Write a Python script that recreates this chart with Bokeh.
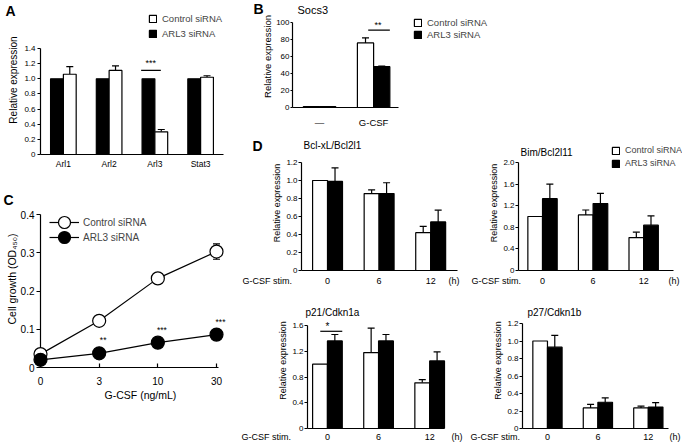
from bokeh.plotting import figure
from bokeh.layouts import row, column
from bokeh.models import (ColumnDataSource, Whisker, TeeHead, Legend, LegendItem,
                          Range1d, FixedTicker)
from bokeh.transform import dodge
from bokeh.core.properties import value
from bokeh.embed import file_html
from bokeh.resources import INLINE

FONT = "Liberation Sans"

# ---------------- data ----------------
# Panel A (qPCR after knock-down)
a_genes = ["Arl1", "Arl2", "Arl3", "Stat3"]
a_black = [1.0, 1.0, 1.0, 1.0]
a_white = [1.06, 1.11, 0.30, 1.02]
a_white_err = [0.10, 0.06, 0.03, 0.02]
a_yticks = [0, 0.2, 0.4, 0.6, 0.8, 1.0, 1.2, 1.4]
a_ylabels = ["0", "0.2", "0.4", "0.6", "0.8", "1.0", "1.2", "1.4"]

# Panel B (Socs3)
b_groups = ["\u2014", "G-CSF"]
b_ctrl = [1.0, 76.0]
b_ctrl_err = [0.0, 6.0]
b_arl3 = [1.0, 48.0]
b_arl3_err = [0.0, 0.8]
b_yticks = [0, 20, 40, 60, 80, 100]
b_ylabels = ["0", "20", "40", "60", "80", "100"]

# Panel C (cell growth)
c_doses = ["0", "3", "10", "30"]
c_ctrl = [0.035, 0.122, 0.233, 0.303]
c_ctrl_err = [0.0, 0.0, 0.0, 0.02]
c_arl3 = [0.020, 0.037, 0.065, 0.086]
c_stars = ["", "**", "***", "***"]
c_yticks = [0, 0.1, 0.2, 0.3, 0.4]
c_ylabels = ["0", "0.1", "0.2", "0.3", "0.4"]

# Panel D (time course)
d_times = ["0", "6", "12"]
d1_ctrl = [1.0, 0.855, 0.42]
d1_ctrl_err = [0.0, 0.04, 0.07]
d1_arl3 = [0.99, 0.855, 0.54]
d1_arl3_err = [0.15, 0.12, 0.13]
d2_ctrl = [1.0, 1.03, 0.61]
d2_ctrl_err = [0.0, 0.09, 0.10]
d2_arl3 = [1.33, 1.24, 0.84]
d2_arl3_err = [0.27, 0.19, 0.17]
d3_ctrl = [1.0, 1.18, 0.71]
d3_ctrl_err = [0.0, 0.38, 0.05]
d3_arl3 = [1.36, 1.36, 1.05]
d3_arl3_err = [0.10, 0.10, 0.14]
d4_ctrl = [1.0, 0.235, 0.235]
d4_ctrl_err = [0.0, 0.04, 0.02]
d4_arl3 = [0.93, 0.30, 0.245]
d4_arl3_err = [0.135, 0.05, 0.05]
d_ticks_12 = [0, 0.2, 0.4, 0.6, 0.8, 1.0, 1.2]
d_labels_12 = ["0", "0.2", "0.4", "0.6", "0.8", "1.0", "1.2"]
d_ticks_20 = [0, 0.4, 0.8, 1.2, 1.6, 2.0]
d_labels_20 = ["0", "0.4", "0.8", "1.2", "1.6", "2.0"]
d_ticks_16 = [0, 0.4, 0.8, 1.2, 1.6]
d_labels_16 = ["0", "0.4", "0.8", "1.2", "1.6"]

CTRL = "Control siRNA"
ARL3 = "ARL3 siRNA"


# ---------------- helpers ----------------
class Panel:
    """A figure whose data frame sits at page box (fl..fr, ft..fb); the frame may be
    extended upward / rightward (axes keep their data bounds)."""

    def __init__(self, origin, size, frame, xr, ymax, ext_top=0, ext_right=0):
        ox, oy = origin
        w, h = size
        fl, fr, ft, fb = frame
        x0, x1 = xr
        self.fl, self.fb, self.x0 = fl, fb, x0
        self.xs = (x1 - x0) / (fr - fl)
        self.ys = ymax / (fb - ft)
        p = figure(width=w, height=h,
                   x_range=Range1d(x0, x1 + ext_right * self.xs),
                   y_range=Range1d(0, ymax + ext_top * self.ys),
                   output_backend="svg", toolbar_location=None,
                   min_border_left=fl - ox, min_border_right=ox + w - fr - ext_right,
                   min_border_top=ft - oy - ext_top, min_border_bottom=oy + h - fb)
        p.outline_line_color = None
        p.grid.visible = False
        p.background_fill_color = "white"
        p.border_fill_color = "white"
        for ax in p.axis:
            ax.axis_line_color = "black"
            ax.axis_line_width = 1.2
            ax.major_tick_line_color = "black"
            ax.major_tick_line_width = 1.2
            ax.minor_tick_line_color = None
            ax.major_label_text_font = FONT
            ax.axis_label_text_font = FONT
            ax.axis_label_text_font_style = "normal"
            ax.major_label_text_color = "black"
            ax.axis_label_text_color = "black"
        p.xaxis[0].bounds = (x0, x1)
        p.yaxis[0].bounds = (0, ymax)
        self.p = p

    def text(self, px, py, s, size, bold=False, align="left"):
        self.p.text(x=[self.x0 + (px - self.fl) * self.xs], y=[(self.fb - py) * self.ys],
                    text=[s], text_font=value(FONT), text_font_size=value(f"{size}px"),
                    text_font_style=value("bold" if bold else "normal"),
                    text_align=value(align), text_baseline=value("middle"),
                    text_color="black", level="overlay")

    def dtext(self, x, y, s, size):
        self.p.text(x=[x], y=[y], text=[s], text_font=value(FONT),
                    text_font_size=value(f"{size}px"), text_align=value("center"),
                    text_baseline=value("middle"), text_color="black", level="overlay")


def set_y(p, ticks, labels, tsize, label, lsize, tout=3, lstand=1, astand=4):
    ax = p.yaxis[0]
    ax.ticker = FixedTicker(ticks=ticks)
    ax.major_label_overrides = {t: s for t, s in zip(ticks, labels)}
    ax.major_tick_out = tout
    ax.major_tick_in = 0
    ax.major_label_standoff = lstand
    ax.major_label_text_font_size = f"{tsize}px"
    ax.axis_label = label
    ax.axis_label_text_font_size = f"{lsize}px"
    ax.axis_label_standoff = astand


def set_x(p, idx, labels, tsize, lstand=4, tin=0):
    ax = p.xaxis[0]
    ax.ticker = FixedTicker(ticks=idx)
    ax.major_label_overrides = {i: s for i, s in zip(idx, labels)}
    ax.major_tick_out = 0
    ax.major_tick_in = tin
    if tin == 0:
        ax.major_tick_line_color = None
    ax.major_label_standoff = lstand
    ax.major_label_text_font_size = f"{tsize}px"


def bars(p, idx, vals, errs, color, shift, width, cap=7):
    src = ColumnDataSource(dict(idx=idx, top=vals))
    r = p.vbar(x=dodge("idx", shift, range=p.x_range), top="top", bottom=0,
               width=width, source=src, fill_color=color,
               line_color="black", line_width=1.2)
    keep = [k for k, e in enumerate(errs) if e > 0]
    if keep:
        wsrc = ColumnDataSource(dict(idx=[idx[k] for k in keep],
                                     lo=[vals[k] for k in keep],
                                     hi=[vals[k] + errs[k] for k in keep]))
        w = Whisker(source=wsrc, base=dodge("idx", shift, range=p.x_range),
                    lower="lo", upper="hi", line_color="black", line_width=1.2,
                    upper_head=TeeHead(size=cap, line_color="black", line_width=1.2),
                    lower_head=None)
        p.add_layout(w)
    return r


def legend(p, items, loc, gw=9, gh=9, spacing=5, standoff=5, size=9.5):
    lg = Legend(items=items, location=loc, orientation="vertical",
                glyph_width=gw, glyph_height=gh, label_height=gh, label_width=10,
                label_text_font=FONT, label_text_font_size=f"{size}px",
                label_standoff=standoff, spacing=spacing, padding=0, margin=0,
                border_line_color=None, background_fill_alpha=0)
    p.add_layout(lg)


# ---------------- panel A ----------------
A = Panel((0, 0), (240, 190), (40, 223, 48, 154), (0.5, 4.5), 1.4, ext_top=43, ext_right=17)
pA = A.p
a_idx = list(range(1, len(a_genes) + 1))
set_y(pA, a_yticks, a_ylabels, 8, "Relative expression", 10, tout=3, lstand=2, astand=2)
set_x(pA, a_idx, a_genes, 8.5, lstand=4)
rA_b = bars(pA, a_idx, a_black, [0] * 4, "black", -0.14, 0.28)
rA_w = bars(pA, a_idx, a_white, a_white_err, "white", 0.14, 0.28)
sig_a = 3
sig_a_y = max(a_black[sig_a - 1], a_white[sig_a - 1]) + 0.11
pA.segment(x0=[sig_a - 0.3], x1=[sig_a + 0.13], y0=[sig_a_y], y1=[sig_a_y],
           line_color="black", line_width=1.2)
A.dtext(sig_a - 0.09, sig_a_y + 0.1, "***", 9)
legend(pA, [LegendItem(label=CTRL, renderers=[rA_w]), LegendItem(label=ARL3, renderers=[rA_b])],
       (108, 115), spacing=4)
A.text(5, 10, "A", 14, bold=True)

# ---------------- panel B ----------------
B = Panel((240, 0), (442, 133), (292, 398, 22, 107), (0.5, 2.46), 100, ext_top=17, ext_right=284)
pB = B.p
b_idx = list(range(1, len(b_groups) + 1))
set_y(pB, b_yticks, b_ylabels, 8, "Relative expression", 9.5, tout=2, lstand=1, astand=0)
set_x(pB, b_idx, b_groups, 9.5, lstand=9)
rB_w = bars(pB, b_idx, b_ctrl, b_ctrl_err, "white", -0.15, 0.30)
rB_b = bars(pB, b_idx, b_arl3, b_arl3_err, "black", 0.15, 0.30)
sig_b = 2
sig_b_y = b_ctrl[1] + b_ctrl_err[1] + 9
pB.segment(x0=[sig_b - 0.1], x1=[sig_b + 0.3], y0=[sig_b_y], y1=[sig_b_y],
           line_color="black", line_width=1.2)
B.dtext(sig_b + 0.08, sig_b_y + 6, "**", 9)
legend(pB, [LegendItem(label=CTRL, renderers=[rB_w]), LegendItem(label=ARL3, renderers=[rB_b])],
       (121, 67), spacing=1, size=9.5)
B.text(253, 8, "B", 14, bold=True)
B.text(297, 9, "Socs3", 11)

# ---------------- panel C ----------------
C = Panel((0, 190), (240, 255), (40, 218, 214, 367), (0, 3.034), 0.4, ext_top=24, ext_right=22)
pC = C.p
c_idx = list(range(len(c_doses)))
set_y(pC, c_yticks, c_ylabels, 10, "Cell growth (OD\u2084\u2085\u2080)", 10.5, tout=4, lstand=2, astand=0)
set_x(pC, c_idx, c_doses, 10, lstand=9, tin=4)
pC.xaxis[0].axis_label = "G-CSF (ng/mL)"
pC.xaxis[0].axis_label_text_font_size = "10.5px"
pC.xaxis[0].axis_label_standoff = 1
src_c1 = ColumnDataSource(dict(x=c_idx, y=c_ctrl))
src_c2 = ColumnDataSource(dict(x=c_idx, y=c_arl3))
keep = [k for k, e in enumerate(c_ctrl_err) if e > 0]
wc = Whisker(source=ColumnDataSource(dict(x=[c_idx[k] for k in keep],
                                          lo=[c_ctrl[k] - c_ctrl_err[k] for k in keep],
                                          hi=[c_ctrl[k] + c_ctrl_err[k] for k in keep])),
             base="x", lower="lo", upper="hi", line_color="black", line_width=1.2,
             upper_head=TeeHead(size=7, line_color="black", line_width=1.2),
             lower_head=TeeHead(size=7, line_color="black", line_width=1.2))
pC.add_layout(wc)
lC1 = pC.line("x", "y", source=src_c1, line_color="black", line_width=1.2)
lC2 = pC.line("x", "y", source=src_c2, line_color="black", line_width=1.2)
sC1 = pC.scatter("x", "y", source=src_c1, size=13, fill_color="white", line_color="black", line_width=1.2)
sC2 = pC.scatter("x", "y", source=src_c2, size=13, fill_color="black", line_color="black", line_width=1.2)
for r in (lC1, lC2, sC1, sC2):
    r.level = "overlay"
for i, s in zip(c_idx, c_stars):
    if s:
        C.dtext(i + 4 * C.xs, c_arl3[i] + 13 * C.ys, s, 8.5)
legend(pC, [LegendItem(label=CTRL, renderers=[lC1, sC1])], (9, 130), gw=30, gh=30, standoff=4, size=10)
legend(pC, [LegendItem(label=ARL3, renderers=[lC2, sC2])], (9, 115), gw=30, gh=30, standoff=4, size=10)
C.text(3, 199, "C", 14, bold=True)


# ---------------- panel D ----------------
def dpanel(origin, size, frame, xr, ymax, ticks, labels, ctrl, ctrl_err, arl3, arl3_err,
           title, title_xy, stim_x, h_x, lab_y, lstand, ext_top=0, ext_right=0):
    P = Panel(origin, size, frame, xr, ymax, ext_top=ext_top, ext_right=ext_right)
    p = P.p
    idx = list(range(1, len(d_times) + 1))
    set_y(p, ticks, labels, 8, "Relative expression", 9, tout=3, lstand=1, astand=1)
    set_x(p, idx, d_times, 9, lstand=lstand)
    rw = bars(p, idx, ctrl, ctrl_err, "white", -0.145, 0.29)
    rb = bars(p, idx, arl3, arl3_err, "black", 0.145, 0.29)
    P.text(title_xy[0], title_xy[1], title, 10)
    P.text(stim_x, lab_y, "G-CSF stim.", 9)
    P.text(h_x, lab_y, "(h)", 9)
    return P, rw, rb


D1, _, _ = dpanel((240, 133), (220, 157), (301, 457, 162, 270), (0.495, 3.52), 1.2,
                  d_ticks_12, d_labels_12, d1_ctrl, d1_ctrl_err, d1_arl3, d1_arl3_err,
                  "Bcl-xL/Bcl2l1", (303, 145), 242, 448, 280, 7, ext_top=27, ext_right=3)
D1.text(252, 145, "D", 14, bold=True)

D2, rD2w, rD2b = dpanel((460, 133), (222, 157), (518, 673, 162, 270), (0.525, 3.59), 2.0,
                        d_ticks_20, d_labels_20, d2_ctrl, d2_ctrl_err, d2_arl3, d2_arl3_err,
                        "Bim/Bcl2l11", (520, 152), 471, 668, 280, 7, ext_top=27, ext_right=9)
legend(D2.p, [LegendItem(label=CTRL, renderers=[rD2w]), LegendItem(label=ARL3, renderers=[rD2b])],
       (93, 102), spacing=3, size=9)

D3, _, _ = dpanel((240, 290), (224, 155), (307, 444, 325, 428), (0.61, 3.29), 1.6,
                  d_ticks_16, d_labels_16, d3_ctrl, d3_ctrl_err, d3_arl3, d3_arl3_err,
                  "p21/Cdkn1a", (305, 312), 241, 451, 436, 5, ext_top=33, ext_right=20)
sig_d3 = 1
sig_d3_y = d3_arl3[0] + d3_arl3_err[0] + 0.05
D3.p.segment(x0=[sig_d3 - 0.14], x1=[sig_d3 + 0.29], y0=[sig_d3_y], y1=[sig_d3_y],
             line_color="black", line_width=1.2, level="overlay")
D3.dtext(sig_d3, sig_d3_y + 0.07, "*", 10)

D4, _, _ = dpanel((464, 290), (218, 155), (522, 668, 323, 428), (0.505, 3.40), 1.2,
                  d_ticks_12, d_labels_12, d4_ctrl, d4_ctrl_err, d4_arl3, d4_arl3_err,
                  "p27/Cdkn1b", (527, 312), 470, 669, 436, 5, ext_top=31, ext_right=14)

layout = row(column(pA, pC), column(pB, row(D1.p, D2.p), row(D3.p, D4.p)))

with open("out.html", "w") as f:
    f.write(file_html(layout, INLINE))
